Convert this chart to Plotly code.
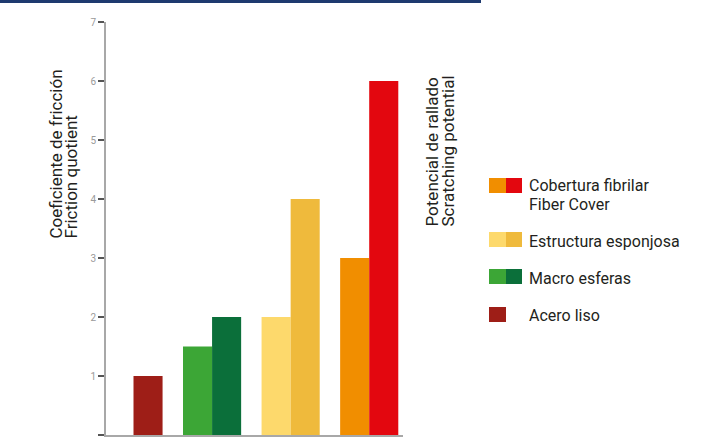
import plotly.graph_objects as go

# Categories (left to right) and the two measured quantities per material
materials = ["Acero liso", "Macro esferas", "Estructura esponjosa", "Cobertura fibrilar"]
friction = [None, 1.5, 2, 3]
scratching = [1, 2, 4, 6]

friction_colors = ["#ffffff", "#3ca636", "#fdd96c", "#f18e00"]
scratching_colors = ["#9e1e17", "#0b6f3a", "#efba3c", "#e3070f"]

legend_lines = [["Cobertura fibrilar", "Fiber Cover"], ["Estructura esponjosa"], ["Macro esferas"], ["Acero liso"]]
legend_left = ["#f18e00", "#fdd96c", "#3ca636", "#9e1e17"]
legend_right = ["#e3070f", "#efba3c", "#0b6f3a", None]

y_ticks = [0, 1, 2, 3, 4, 5, 6, 7]

W, H = 709, 437
PL, PR, PT, PB = 106, 403, 22, 435
FONT = "Roboto"
INK = "#231f20"


def px(x):
    return (x - PL) / (PR - PL)


def py(y):
    return (PB - y) / (PB - PT)


fig = go.Figure()
fig.add_trace(go.Bar(x=materials, y=friction, marker=dict(color=friction_colors, line=dict(width=0)),
                     name="Coeficiente de fricción", showlegend=False))
fig.add_trace(go.Bar(x=materials, y=scratching, marker=dict(color=scratching_colors, line=dict(width=0)),
                     name="Potencial de rallado", showlegend=False))

shapes = [
    # header rule
    dict(type="line", xref="paper", yref="paper", x0=px(0), x1=px(481), y0=py(1.5), y1=py(1.5),
         line=dict(color="#1e3a6f", width=3)),
]
annotations = []

# legend: swatches + labels
swatch_y = [185.5, 239.5, 276.5, 314.5]
text_y = [[185, 204], [241], [278], [315]]
for lines, ys, cl, cr, yc in zip(legend_lines, text_y, legend_left, legend_right, swatch_y):
    shapes.append(dict(type="rect", xref="paper", yref="paper", x0=px(489), x1=px(506),
                       y0=py(yc + 7.5), y1=py(yc - 7.5), fillcolor=cl, line=dict(width=0)))
    if cr:
        shapes.append(dict(type="rect", xref="paper", yref="paper", x0=px(506), x1=px(522),
                           y0=py(yc + 7.5), y1=py(yc - 7.5), fillcolor=cr, line=dict(width=0)))
    for line, ty in zip(lines, ys):
        annotations.append(dict(text=line, xref="paper", yref="paper", x=px(528), y=py(ty),
                                xanchor="left", yanchor="middle", align="left", showarrow=False,
                                borderpad=0, font=dict(family=FONT, size=16, color=INK)))

# rotated axis titles, one annotation per line
titles = [
    ("Coeficiente de fricción", 56, 240),
    ("Friction quotient", 71, 240),
    ("Potencial de rallado", 431, 228),
    ("Scratching potential", 447, 228),
]
for txt, xc, yb in titles:
    annotations.append(dict(text=txt, textangle=-90, xref="paper", yref="paper",
                            x=px(xc), y=py(yb), xanchor="center", yanchor="bottom",
                            showarrow=False, borderpad=0,
                            font=dict(family=FONT, size=17, color=INK)))

fig.update_layout(
    width=W, height=H,
    margin=dict(l=PL, r=W - PR, t=PT, b=H - PB),
    paper_bgcolor="white", plot_bgcolor="white",
    barmode="group", bargap=0.26, bargroupgap=0,
    shapes=shapes, annotations=annotations,
    xaxis=dict(range=[-0.35, 3.43], showticklabels=False, ticks="", showgrid=False, zeroline=False,
               showline=True, linecolor="#a8a8a8", linewidth=2),
    yaxis=dict(range=[0, 7], tickvals=y_ticks, ticks="outside", ticklen=6, tickwidth=1.5,
               tickcolor="#555555", showgrid=False, zeroline=False, showline=True,
               linecolor="#a8a8a8", linewidth=2,
               tickfont=dict(family=FONT, size=10, color="#9a9a9a")),
    showlegend=False,
)

fig.write_html("out.html")
